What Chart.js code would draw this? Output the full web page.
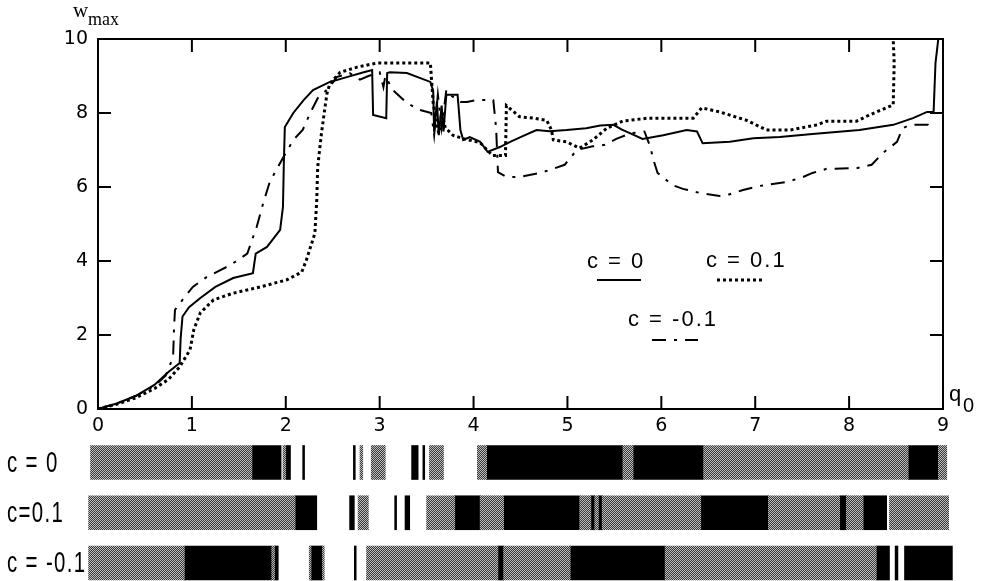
<!DOCTYPE html>
<html><head><meta charset="utf-8">
<script src="https://cdn.jsdelivr.net/npm/chart.js@4/dist/chart.umd.min.js"></script>
<style>
html,body{margin:0;padding:0;background:#fff;overflow:hidden;width:983px;height:581px}
canvas{position:absolute;left:0}
#top{top:0}
#bands{top:437px}
</style></head><body>
<canvas id="top" width="983" height="445"></canvas>
<canvas id="bands" width="983" height="144"></canvas>
<script>
// ---------- data ----------
const seriesNames = ['c = 0', 'c = 0.1', 'c = -0.1'];
// [q0, wmax] pairs
const c0Points = [[0,0],[0.2,0.15],[0.4,0.35],[0.6,0.65],[0.75,1.0],[0.87,1.24],[0.88,1.9],[0.90,2.5],[0.97,2.75],[1.09,3.0],[1.25,3.3],[1.44,3.54],[1.65,3.67],[1.68,4.2],[1.8,4.38],[1.94,4.84],[1.97,5.46],[1.98,6.73],[1.99,7.62],[2.08,8.0],[2.19,8.35],[2.29,8.62],[2.47,8.84],[2.65,8.97],[2.83,9.1],[2.92,9.16],[2.93,7.95],[3.07,7.86],[3.08,9.08],[3.11,9.1],[3.29,9.08],[3.54,8.84],[3.57,8.6],[3.58,7.5],[3.61,8.3],[3.63,7.4],[3.66,8.2],[3.68,7.5],[3.71,8.49],[3.83,8.49],[3.86,7.54],[3.89,7.27],[3.96,7.35],[4.07,7.22],[4.15,6.95],[4.28,7.08],[4.39,7.22],[4.53,7.38],[4.67,7.54],[4.81,7.51],[4.99,7.54],[5.2,7.59],[5.35,7.66],[5.49,7.68],[5.58,7.55],[5.67,7.45],[5.8,7.3],[6.02,7.4],[6.27,7.54],[6.38,7.5],[6.44,7.18],[6.73,7.22],[6.98,7.32],[7.26,7.35],[7.61,7.43],[8.11,7.54],[8.47,7.68],[8.68,7.86],[8.83,8.03],[8.9,8.03],[8.92,9.35],[8.95,10],[9.0,10]];
const c01Points = [[0,0],[0.2,0.13],[0.4,0.3],[0.6,0.55],[0.75,0.8],[0.87,1.14],[0.98,1.6],[1.02,2.14],[1.09,2.6],[1.23,2.95],[1.44,3.13],[1.73,3.3],[2.01,3.49],[2.17,3.7],[2.22,4.03],[2.31,4.75],[2.33,5.65],[2.34,6.54],[2.38,7.45],[2.42,8.2],[2.44,8.54],[2.47,8.8],[2.58,9.1],[2.76,9.24],[2.97,9.35],[3.18,9.35],[3.54,9.35],[3.57,8.27],[3.6,7.8],[3.63,7.45],[3.66,8.0],[3.7,7.6],[3.78,7.4],[3.9,7.3],[4.07,7.2],[4.2,6.85],[4.34,6.85],[4.35,8.2],[4.49,7.9],[4.64,7.86],[4.78,7.8],[4.83,7.54],[4.85,7.27],[4.99,7.22],[5.13,7.05],[5.27,7.27],[5.42,7.59],[5.59,7.78],[5.85,7.86],[6.1,7.86],[6.34,7.86],[6.43,8.14],[6.62,8.03],[6.91,7.8],[7.12,7.54],[7.37,7.54],[7.66,7.68],[7.76,7.78],[8.08,7.78],[8.22,7.95],[8.47,8.22],[8.48,9.35],[8.47,10]];
const cm01Points = [[0,0],[0.2,0.15],[0.4,0.35],[0.6,0.62],[0.72,0.9],[0.8,1.4],[0.81,2.2],[0.82,2.68],[0.9,2.95],[1.01,3.3],[1.16,3.57],[1.41,3.89],[1.59,4.2],[1.69,4.92],[1.76,5.57],[1.83,6.14],[1.94,6.65],[2.08,7.27],[2.18,7.54],[2.26,8.0],[2.34,8.4],[2.47,8.7],[2.54,8.97],[2.68,9.08],[2.79,8.9],[2.88,9.0],[3.0,9.1],[3.04,8.7],[3.06,9.0],[3.14,8.62],[3.29,8.27],[3.43,8.08],[3.55,8.0],[3.58,7.4],[3.62,8.5],[3.66,7.6],[3.71,8.62],[3.75,8.49],[3.86,8.3],[3.93,8.3],[4.03,8.35],[4.21,8.35],[4.24,7.6],[4.26,6.4],[4.35,6.27],[4.49,6.27],[4.71,6.38],[4.81,6.46],[4.97,6.6],[5.1,7.0],[5.27,7.1],[5.4,7.14],[5.52,7.3],[5.67,7.45],[5.82,7.5],[5.88,7.1],[5.92,6.7],[5.96,6.38],[6.12,6.05],[6.23,5.95],[6.41,5.84],[6.62,5.76],[6.7,5.78],[6.87,5.92],[7.05,6.03],[7.34,6.14],[7.51,6.27],[7.61,6.38],[7.76,6.49],[8.08,6.51],[8.24,6.6],[8.36,6.92],[8.51,7.22],[8.57,7.59],[8.65,7.68],[8.84,7.68],[8.89,7.57]];

// stability bands: [start q0, end q0]
const bandRows = ['c = 0', 'c=0.1', 'c = -0.1'];
const c0Gray = [[-0.08,1.64],[1.97,2.0],[2.79,2.82],[2.91,3.06],[3.53,3.68],[4.04,4.14],[5.59,5.70],[6.45,8.63],[8.95,9.04]];
const c0Black = [[1.64,1.95],[2.0,2.05],[2.18,2.2],[2.72,2.74],[3.34,3.41],[3.46,3.48],[4.14,5.59],[5.70,6.45],[8.63,8.95]];
const c01Gray = [[-0.1,2.1],[2.77,2.88],[3.5,3.8],[4.07,4.32],[5.13,5.25],[5.29,5.33],[5.37,6.42],[7.14,7.9],[7.97,8.15],[8.43,9.06]];
const c01Black = [[2.1,2.33],[2.68,2.73],[3.16,3.18],[3.27,3.32],[3.8,4.07],[4.32,5.13],[5.25,5.29],[5.33,5.37],[6.42,7.14],[7.9,7.97],[8.15,8.4]];
const cm01Gray = [[-0.1,0.92],[1.85,1.88],[2.25,2.27],[2.39,2.41],[2.86,4.26],[4.32,5.03],[6.04,8.29]];
const cm01Black = [[0.92,1.85],[1.88,1.92],[2.27,2.39],[2.73,2.75],[4.26,4.32],[5.03,6.04],[8.29,8.43],[8.49,8.52],[8.59,9.1]];

const xMin = 0, xMax = 9, xStep = 1;
const yMin = 0, yMax = 10, yStep = 2;

// ---------- styles ----------
const TICK_FONT = {family: 'DejaVu Sans', size: 19};
const styles = [
  {borderWidth: 2, borderDash: []},
  {borderWidth: 3, borderDash: [3, 3]},
  {borderWidth: 2, borderDash: [14, 8, 3, 8]}
];
const toXY = pts => pts.map(p => ({x: p[0], y: p[1]}));

const framePlugin = {
  id: 'frame',
  afterDraw(chart) {
    const {ctx, chartArea: a, scales: {x, y}} = chart;
    ctx.save();
    ctx.strokeStyle = '#000'; ctx.lineWidth = 2; ctx.setLineDash([]);
    ctx.strokeRect(a.left, a.top, a.right - a.left, a.bottom - a.top);
    const L = 13;
    ctx.beginPath();
    x.ticks.forEach(t => { const px = x.getPixelForValue(t.value);
      ctx.moveTo(px, a.bottom); ctx.lineTo(px, a.bottom - L);
      ctx.moveTo(px, a.top); ctx.lineTo(px, a.top + L); });
    y.ticks.forEach(t => { const py = y.getPixelForValue(t.value);
      ctx.moveTo(a.left, py); ctx.lineTo(a.left + L, py);
      ctx.moveTo(a.right, py); ctx.lineTo(a.right - L, py); });
    ctx.stroke();
    // axis names
    ctx.fillStyle = '#000';
    ctx.textBaseline = 'alphabetic';
    ctx.font = '21px "Liberation Serif"';
    ctx.fillText('w', 73, 17);
    ctx.font = '18px "Liberation Serif"';
    ctx.fillText('max', 88, 25);
    ctx.font = '22px "Liberation Sans"';
    ctx.fillText('q', 949, 401);
    ctx.font = '20px "Liberation Sans"';
    ctx.fillText('0', 963, 412);
    // legend
    ctx.font = '22px "Liberation Sans"';
    if ('letterSpacing' in ctx) ctx.letterSpacing = '2px';
    const leg = [
      {t: seriesNames[0], tx: 587, ty: 268, lx1: 597, lx2: 641, ly: 280},
      {t: seriesNames[1], tx: 706, ty: 267, lx1: 717, lx2: 764, ly: 280},
      {t: seriesNames[2], tx: 628, ty: 326, lx1: 652, lx2: 698, ly: 340}
    ];
    leg.forEach((l, i) => {
      ctx.fillText(l.t, l.tx, l.ty);
      ctx.beginPath();
      ctx.lineWidth = styles[i].borderWidth;
      ctx.setLineDash(styles[i].borderDash);
      ctx.moveTo(l.lx1, l.ly); ctx.lineTo(l.lx2, l.ly);
      ctx.stroke();
    });
    ctx.restore();
  }
};

new Chart(document.getElementById('top'), {
  type: 'line',
  data: {
    datasets: [c0Points, c01Points, cm01Points].map((pts, i) => ({
      label: seriesNames[i],
      data: toXY(pts),
      borderColor: '#000',
      borderWidth: styles[i].borderWidth,
      borderDash: styles[i].borderDash,
      pointRadius: 0,
      tension: 0,
      fill: false
    }))
  },
  options: {
    responsive: false,
    devicePixelRatio: 1,
    animation: false,
    layout: {padding: {left: 0, right: 40, top: 39, bottom: 6}},
    plugins: {legend: {display: false}, tooltip: {enabled: false}},
    scales: {
      x: {
        type: 'linear', min: xMin, max: xMax,
        ticks: {stepSize: xStep, color: '#000', font: TICK_FONT, padding: 6},
        grid: {display: false, drawTicks: false},
        border: {display: false},
        afterFit: s => { s.height = 30; }
      },
      y: {
        type: 'linear', min: yMin, max: yMax,
        ticks: {stepSize: yStep, color: '#000', font: TICK_FONT, padding: 10},
        grid: {display: false, drawTicks: false},
        border: {display: false},
        afterFit: s => { s.width = 98; }
      }
    }
  },
  plugins: [framePlugin]
});

// ---------- bands ----------
const bandCanvas = document.getElementById('bands');
function grayPattern(ctx) {
  const c = document.createElement('canvas'); c.width = 2; c.height = 2;
  const g = c.getContext('2d');
  g.fillStyle = '#bdbdbd'; g.fillRect(0, 0, 2, 2);
  g.fillStyle = '#3a3a3a'; g.fillRect(0, 0, 1, 1); g.fillRect(1, 1, 1, 1);
  return ctx.createPattern(c, 'repeat');
}
const pat = grayPattern(bandCanvas.getContext('2d'));
const toBars = (row, segs) => segs.map(s => ({y: row, x: [s[0], s[1]]}));
const grayData = [].concat(toBars(bandRows[0], c0Gray), toBars(bandRows[1], c01Gray), toBars(bandRows[2], cm01Gray));
const blackData = [].concat(toBars(bandRows[0], c0Black), toBars(bandRows[1], c01Black), toBars(bandRows[2], cm01Black));

const rowLabelPlugin = {
  id: 'rowLabels',
  afterDraw(chart) {
    const {ctx, scales: {y}} = chart;
    ctx.save();
    ctx.fillStyle = '#000';
    ctx.font = '30px "Liberation Sans"';
    ctx.textBaseline = 'middle';
    if ('letterSpacing' in ctx) ctx.letterSpacing = '2px';
    bandRows.forEach((r, i) => {
      const py = y.getPixelForValue(i);
      ctx.save();
      ctx.translate(7, py + 1);
      ctx.scale(0.68, 1);
      ctx.fillText(r, 0, 0);
      ctx.restore();
    });
    ctx.restore();
  }
};

new Chart(bandCanvas, {
  type: 'bar',
  data: {
    labels: bandRows,
    datasets: [
      {label: 'gray', data: grayData, backgroundColor: pat, grouped: false, barThickness: 34, clip: false, borderWidth: 0},
      {label: 'black', data: blackData, backgroundColor: '#000', grouped: false, barThickness: 34, clip: false, borderWidth: 0}
    ]
  },
  options: {
    indexAxis: 'y',
    responsive: false,
    devicePixelRatio: 1,
    animation: false,
    layout: {padding: {left: 98, right: 40, top: 25.5, bottom: 18}},
    plugins: {legend: {display: false}, tooltip: {enabled: false}},
    scales: {
      x: {type: 'linear', min: xMin, max: xMax, display: false},
      y: {type: 'category', offset: false, display: false}
    }
  },
  plugins: [rowLabelPlugin]
});
</script>
</body></html>
